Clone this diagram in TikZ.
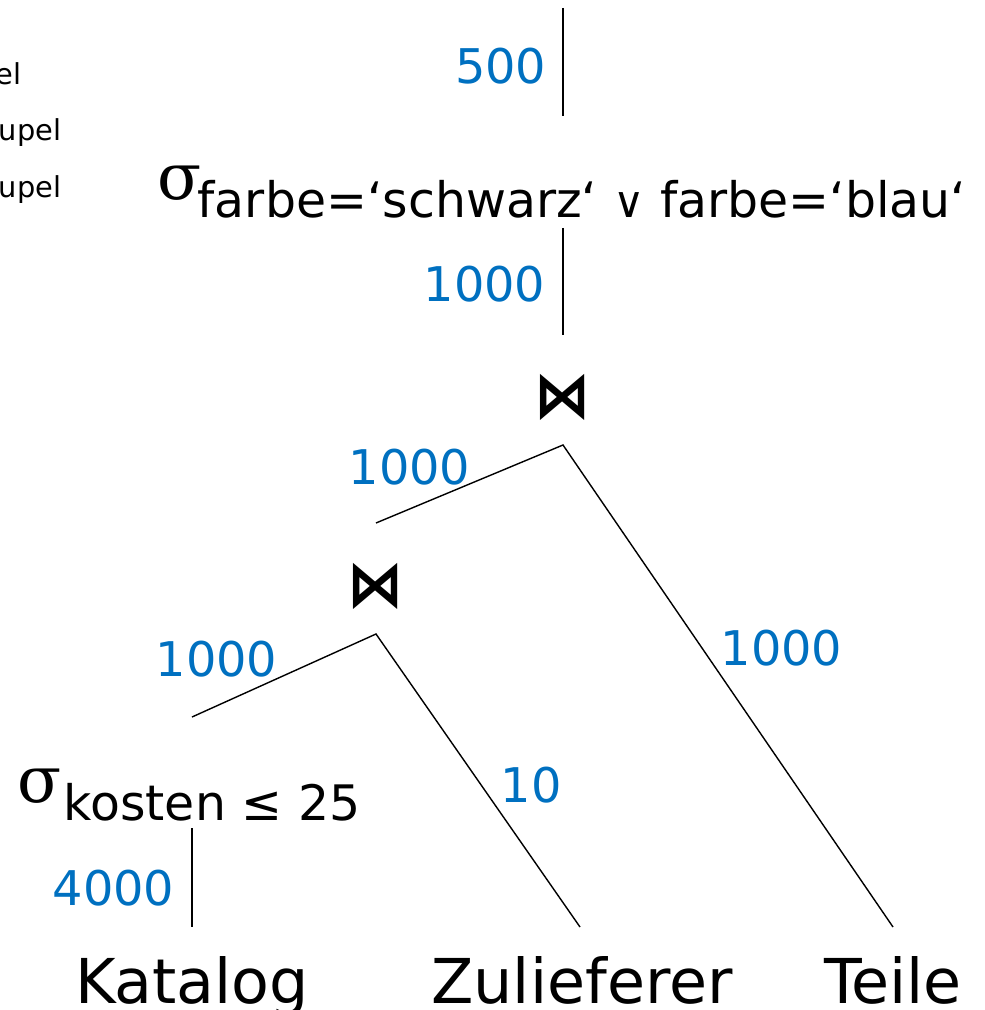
\documentclass[tikz,border=0pt]{standalone}
\usepackage{fontspec}
\usepackage{graphicx}
\setmainfont{DejaVu Sans}
\newfontfamily\sigfont{DejaVu Serif}
\usetikzlibrary{positioning}
\definecolor{cardblue}{RGB}{0,112,192}
\tikzset{
  card/.style={text=cardblue, inner sep=0pt, font=\fontsize{34}{40}\selectfont},
  rel/.style={inner sep=0pt, anchor=base, font=\fontsize{44}{52}\selectfont},
  sig/.style={inner sep=0pt, anchor=base west, font=\fontsize{46}{52}\sigfont},
  cond/.style={inner sep=0pt, anchor=base west, font=\fontsize{34.8}{40}\selectfont},
  joinop/.style={inner sep=0pt, font=\fontsize{38}{44}\selectfont\bfseries},
  note/.style={inner sep=0pt, anchor=base east, font=\fontsize{20.5}{24}\selectfont},
}
\newcommand{\smallor}{\scalebox{0.88}{∨}}

\begin{document}
\begin{tikzpicture}[x=0.25mm,y=-0.25mm,line width=1pt]
\useasboundingbox (0,0) rectangle (984,1010);

%%%%%%%%%%%%%%%%%%%% Legend (cut off) %%%%%%%%%%%%%%%%%%%%
\node[note] (t1) at (22,85) {el};
\node[note] (t2) at (62,141) {upel};
\node[note] (t3) at (62,198) {upel};

%%%%%%%%%%%%%%%%%%%% Relations %%%%%%%%%%%%%%%%%%%%
\foreach \name/\xpos in {Katalog/192, Zulieferer/582, Teile/893}
{
    \node[rel] (\name) at (\xpos,1003) {\name};
}

%%%%%%%%%%%%%%%%%%%% Operators %%%%%%%%%%%%%%%%%%%%
\node[sig] (s1) at (17,802) {σ};
\node[cond] (c1) at (63,820) {kosten ≤ 25};
\node[sig] (s2) at (157,200) {σ};
\node[cond] (c2) at (197,218) {farbe=‘schwarz‘ \smallor{} farbe=‘blau‘};
\node[joinop] (j1) at (563,397) {\scalebox{1.05}[1.2]{⋈}};
\node[joinop] (j2) at (376,586) {\scalebox{1.05}[1.2]{⋈}};

%%%%%%%%%%%%%%%%%%%% Line ends %%%%%%%%%%%%%%%%%%%%
\coordinate (root) at (563,8);
\coordinate (s2up) at (563,116);
\coordinate (s2dn) at (563,228);
\coordinate (j1up) at (563,335);
\coordinate (j1dn) at (563,445);
\coordinate (j2up) at (376,523);
\coordinate (j2dn) at (376,634);
\coordinate (s1up) at (192,717);
\coordinate (s1dn) at (192,828);
\coordinate (katup) at (192,927);
\coordinate (zulup) at (580,927);
\coordinate (teilup) at (893,927);

%Draw tree
\draw (root) -- (s2up);
\draw (s2dn) -- (j1up);
\draw (j2up) -- (j1dn) -- (teilup);
\draw (s1up) -- (j2dn) -- (zulup);
\draw (s1dn) -- (katup);

%%%%%%%%%%%%%%%%%%%% Cardinalities %%%%%%%%%%%%%%%%%%%%
\node[card, anchor=base east] (n1) at (547,84) {500};
\node[card, anchor=base east] (n2) at (546,301) {1000};
\node[card, anchor=base west] (n3) at (348,484) {1000};
\node[card, anchor=base west] (n4) at (720,665) {1000};
\node[card, anchor=base west] (n5) at (155,676) {1000};
\node[card, anchor=base west] (n6) at (500,802) {10};
\node[card, anchor=base east] (n7) at (175,905) {4000};

\end{tikzpicture}
\end{document}
